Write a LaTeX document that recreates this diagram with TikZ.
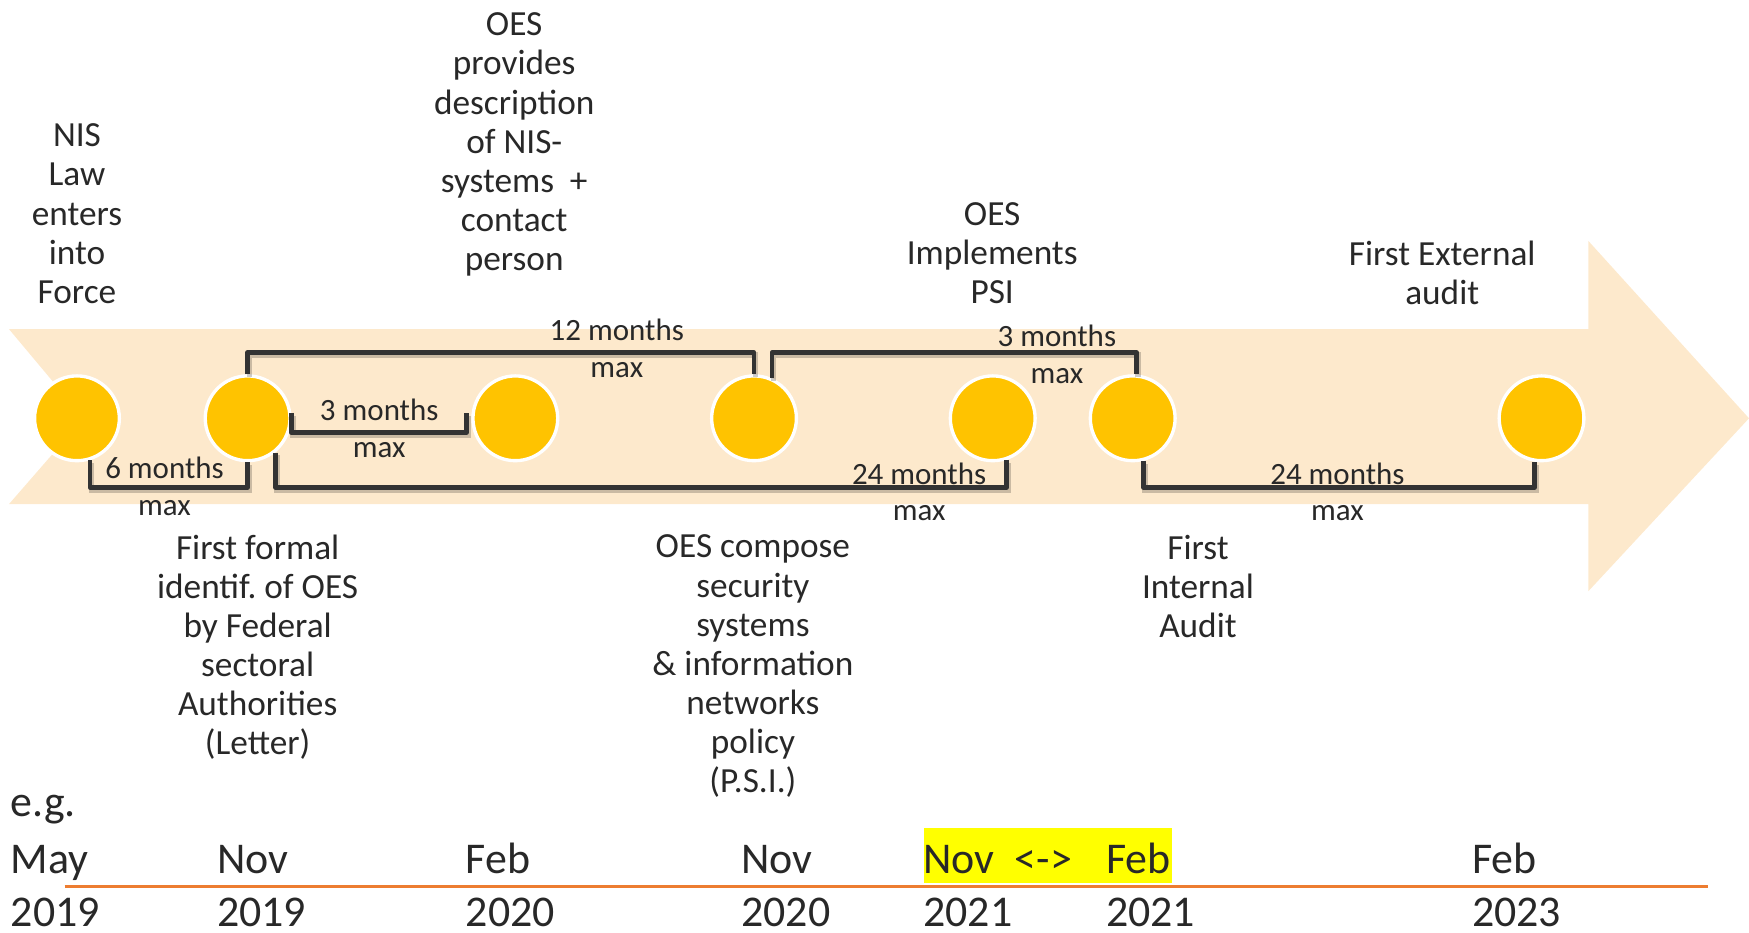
\documentclass[tikz,border=0pt]{standalone}
\usepackage{fontspec}
\setmainfont{Carlito}
\usepackage{xcolor}
\usetikzlibrary{calc}
\frenchspacing

\definecolor{bandpeach}{RGB}{253,233,204}
\definecolor{dotgold}{RGB}{255,195,0}
\definecolor{inkgray}{RGB}{40,40,40}
\definecolor{linegray}{RGB}{51,51,51}
\definecolor{ruleorange}{RGB}{237,125,49}
\definecolor{markyellow}{RGB}{255,255,0}

\tikzset{
    milestone/.style={circle, fill=dotgold, draw=white, line width=0.3mm, minimum size=7.6mm, inner sep=0pt},
    gapbracket/.style={draw=linegray, line width=0.42mm, line join=round,
        preaction={draw=black, opacity=0.2, line width=0.5mm, transform canvas={shift={(0.15mm,-0.25mm)}}}},
    eventtext/.style={align=center, anchor=north, inner sep=0pt, text=inkgray, font=\fontsize{9pt}{3.5mm}\selectfont},
    gaplabel/.style={eventtext, font=\fontsize{7.9pt}{3.3mm}\selectfont},
    datetext/.style={anchor=base west, inner sep=0pt, text=inkgray, font=\fontsize{11.2pt}{13pt}\selectfont}
}

\begin{document}
\begin{tikzpicture}[x=0.1mm, y=-0.1mm]
    \useasboundingbox (0,0) rectangle (1568,836);

    % ==========================================
    % TIMELINE ARROW
    % ==========================================
    \fill[bandpeach] (8,295) -- (1424,295) -- (1424,216) -- (1568,375)
        -- (1424,530) -- (1424,452) -- (8,452) -- (75,375) -- cycle;

    % Milestones
    \node[milestone] (m1) at (69,375) {};
    \node[milestone] (m2) at (222,375) {};
    \node[milestone] (m3) at (462,375) {};
    \node[milestone] (m4) at (676,375) {};
    \node[milestone] (m5) at (890,375) {};
    \node[milestone] (m6) at (1015.5,375) {};
    \node[milestone] (m7) at (1382,375) {};

    % Rail heights for the brackets
    \coordinate (toprail) at (0,316);
    \coordinate (midrail) at (0,388);
    \coordinate (lowrail) at (0,437);
    \coordinate (b2end) at ($(m3.center)+(-44,-5)$);

    % ==========================================
    % BRACKETS (maximum delays)
    % ==========================================
    \draw[gapbracket] (m1.-73) -- (m1.-73 |- lowrail) -| (m2.south);
    \draw[gapbracket] (m2.7) -- (m2.7 |- midrail) -| (b2end);
    \draw[gapbracket] (m2.north) -- (m2.north |- toprail) -| (m4.north);
    \draw[gapbracket] (m2.-51) -- (m2.-51 |- lowrail) -| (m5.-72);
    \draw[gapbracket] (m4.66) -- (m4.66 |- toprail) -| (m6.85);
    \draw[gapbracket] (m6.-76) -- (m6.-76 |- lowrail) -| (m7.-99);

    \node[gaplabel] (g1) at (147.5,409) {6 months\\max};
    \node[gaplabel] (g2) at (340,357) {3 months\\max};
    \node[gaplabel] (g3) at (553,285) {12 months\\max};
    \node[gaplabel] (g4) at (824,414) {24 months\\max};
    \node[gaplabel] (g5) at (947.5,291) {3 months\\max};
    \node[gaplabel] (g6) at (1199,414) {24 months\\max};

    % ==========================================
    % EVENT TEXTS
    % ==========================================
    \node[eventtext] (t1) at (69,110.5) {NIS\\Law\\enters\\into\\Force};
    \node[eventtext] (t2) at (461,11) {OES\\provides\\description\\of NIS-\\systems\ \ +\\contact\\person};
    \node[eventtext] (t3) at (889.5,181) {OES\\Implements\\PSI};
    \node[eventtext] (t4) at (1293,215.5) {First External\\audit};

    \node[eventtext] (b1) at (231,479) {First formal\\identif. of OES\\by Federal\\sectoral\\Authorities\\(Letter)};
    \node[eventtext] (b2) at (675,479) {OES compose\\security\\systems\\\& information\\networks\\policy\\(P.S.I.)};
    \node[eventtext] (b3) at (1074,479) {First\\Internal\\Audit};

    % ==========================================
    % EXAMPLE DATES
    % ==========================================
    \fill[markyellow] (828,742) rectangle (1051,792);
    \node[datetext] (eg) at (9,732) {e.g.};

    \node[datetext] (mon1) at (9,783) {May};
    \node[datetext] (mon2) at (194,783) {Nov};
    \node[datetext] (mon3) at (417,783) {Feb};
    \node[datetext] (mon4) at (664,783) {Nov};
    \node[datetext] (mon5) at (827,783) {Nov};
    \node[datetext] (arr5) at (909,783) {<->};
    \node[datetext] (mon6) at (991,783) {Feb};
    \node[datetext] (mon7) at (1319,783) {Feb};

    \draw[ruleorange, line width=0.24mm] (58,795) -- (1531,795);

    \node[datetext] (yr1) at (9,831) {2019};
    \node[datetext] (yr2) at (194,831) {2019};
    \node[datetext] (yr3) at (417,831) {2020};
    \node[datetext] (yr4) at (664,831) {2020};
    \node[datetext] (yr5) at (827,831) {2021};
    \node[datetext] (yr6) at (991,831) {2021};
    \node[datetext] (yr7) at (1319,831) {2023};

\end{tikzpicture}
\end{document}
